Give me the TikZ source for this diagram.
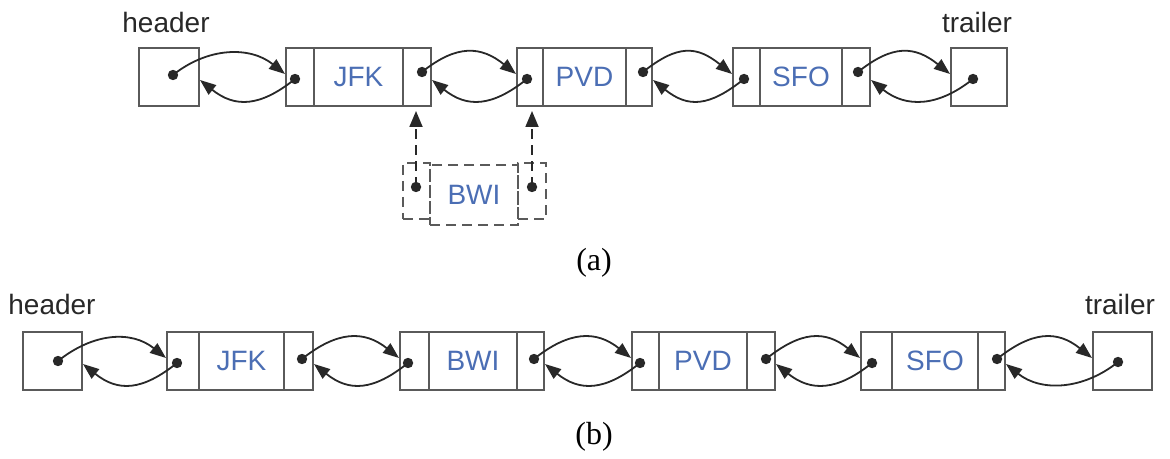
\documentclass[tikz,border=0pt]{standalone}
\usepackage{fontspec}
\setmainfont{Liberation Serif}
\setsansfont{Liberation Sans}
\usetikzlibrary{arrows.meta,fit}
\definecolor{nodeblue}{RGB}{75,110,180}
\definecolor{linegray}{RGB}{40,40,40}
\definecolor{boxgray}{RGB}{90,90,90}
\definecolor{labelgray}{RGB}{40,40,40}
\newcommand\llcell[6]{\node[cell,fit={(#2,#3) (#4,#5)},label={[celltext]center:#6}] (#1) {};}
\newcommand\dllcell[6]{\node[dcell,fit={(#2,#3) (#4,#5)},label={[celltext]center:#6}] (#1) {};}
\newcommand\dotat[3]{\coordinate (#1) at (#2,#3); \fill[linegray] (#1) circle (2.6pt);}
\newcommand\fwdlink[2]{\draw[link] (#1) .. controls +(35,-28) and +(-35,-28) .. (#2);}
\newcommand\bwdlink[2]{\draw[link] (#1) .. controls +(-35,28) and +(35,28) .. (#2);}
\begin{document}
\begin{tikzpicture}[x=0.5pt,y=-0.5pt,
  cell/.style={draw=boxgray,line width=0.85pt,inner sep=0pt},
  celltext/.style={text=nodeblue,inner sep=0pt,font=\sffamily\fontsize{14pt}{16pt}\selectfont},
  dcell/.style={cell,dash pattern=on 5pt off 3pt},
  link/.style={draw=linegray,line width=0.9pt,-{Triangle[length=8pt,width=6pt]}},
  uplink/.style={draw=linegray,line width=0.9pt,dash pattern=on 5pt off 3pt,
    -{Triangle[length=8pt,width=6.5pt]}},
  lbl/.style={text=labelgray,font=\sffamily\fontsize{14pt}{16pt}\selectfont},
  captext/.style={text=black,font=\fontsize{16pt}{18pt}\selectfont}]
\useasboundingbox (0,0) rectangle (1170,459);

% ---------- (a) ----------
\node[lbl] (hdrAlbl) at (166,22) {header};
\node[lbl] (trlAlbl) at (977,22) {trailer};
\llcell{hdrA}{139}{48}{199}{106}{}
\llcell{jfkAl}{286}{48}{314}{106}{}
\llcell{jfkAm}{314}{48}{403}{106}{JFK}
\llcell{jfkAr}{403}{48}{431}{106}{}
\llcell{pvdAl}{517}{48}{543}{106}{}
\llcell{pvdAm}{543}{48}{626}{106}{PVD}
\llcell{pvdAr}{626}{48}{652}{106}{}
\llcell{sfoAl}{733}{48}{760}{106}{}
\llcell{sfoAm}{760}{48}{842}{106}{SFO}
\llcell{sfoAr}{842}{48}{870}{106}{}
\llcell{trlA}{951}{48}{1007}{106}{}

\dotat{hdrAd}{173}{75}
\dotat{jfkAld}{295}{79}\dotat{jfkArd}{422}{72}
\dotat{pvdAld}{527}{79}\dotat{pvdArd}{643}{72}
\dotat{sfoAld}{744}{79}\dotat{sfoArd}{858}{72}
\dotat{trlAd}{973}{79}

\coordinate (hdrAout) at (200,80);
\coordinate (jfkAin) at (285,74); \coordinate (jfkAout) at (432,80);
\coordinate (pvdAin) at (516,74); \coordinate (pvdAout) at (653,80);
\coordinate (sfoAin) at (732,74); \coordinate (sfoAout) at (871,80);
\coordinate (trlAin) at (950,74);

\fwdlink{hdrAd}{jfkAin}\bwdlink{jfkAld}{hdrAout}
\fwdlink{jfkArd}{pvdAin}\bwdlink{pvdAld}{jfkAout}
\fwdlink{pvdArd}{sfoAin}\bwdlink{sfoAld}{pvdAout}
\fwdlink{sfoArd}{trlAin}\bwdlink{trlAd}{sfoAout}

% new node BWI (dashed)
\dllcell{bwiAl}{403}{163}{430}{219}{}
\dllcell{bwiAm}{430}{165}{518}{225}{BWI}
\dllcell{bwiAr}{518}{163}{546}{219}{}
\dotat{bwiAld}{416}{187}\dotat{bwiArd}{532}{187}
\coordinate (jfkAup) at (416,111);
\coordinate (pvdAup) at (532,111);
\draw[uplink] (bwiAld) -- (jfkAup);
\draw[uplink] (bwiArd) -- (pvdAup);

\node[captext] (capA) at (594,263) {(a)};

% ---------- (b) ----------
\node[lbl] (hdrBlbl) at (52,304) {header};
\node[lbl] (trlBlbl) at (1120,304) {trailer};
\llcell{hdrB}{23}{332}{82}{390}{}
\llcell{jfkBl}{167}{332}{199}{390}{}
\llcell{jfkBm}{199}{332}{284}{390}{JFK}
\llcell{jfkBr}{284}{332}{313}{390}{}
\llcell{bwiBl}{400}{332}{429}{390}{}
\llcell{bwiBm}{429}{332}{517}{390}{BWI}
\llcell{bwiBr}{517}{332}{544}{390}{}
\llcell{pvdBl}{632}{332}{659}{390}{}
\llcell{pvdBm}{659}{332}{747}{390}{PVD}
\llcell{pvdBr}{747}{332}{775}{390}{}
\llcell{sfoBl}{861}{332}{892}{390}{}
\llcell{sfoBm}{892}{332}{978}{390}{SFO}
\llcell{sfoBr}{978}{332}{1005}{390}{}
\llcell{trlB}{1093}{332}{1152}{390}{}

\dotat{hdrBd}{58}{361}
\dotat{jfkBld}{177}{363}\dotat{jfkBrd}{302}{359}
\dotat{bwiBld}{408}{363}\dotat{bwiBrd}{534}{359}
\dotat{pvdBld}{640}{363}\dotat{pvdBrd}{766}{359}
\dotat{sfoBld}{872}{363}\dotat{sfoBrd}{997}{359}
\dotat{trlBd}{1118}{362}

\coordinate (hdrBout) at (83,364);
\coordinate (jfkBin) at (166,358); \coordinate (jfkBout) at (314,364);
\coordinate (bwiBin) at (399,358); \coordinate (bwiBout) at (545,364);
\coordinate (pvdBin) at (631,358); \coordinate (pvdBout) at (776,364);
\coordinate (sfoBin) at (860,358); \coordinate (sfoBout) at (1006,364);
\coordinate (trlBin) at (1092,358);

\fwdlink{hdrBd}{jfkBin}\bwdlink{jfkBld}{hdrBout}
\fwdlink{jfkBrd}{bwiBin}\bwdlink{bwiBld}{jfkBout}
\fwdlink{bwiBrd}{pvdBin}\bwdlink{pvdBld}{bwiBout}
\fwdlink{pvdBrd}{sfoBin}\bwdlink{sfoBld}{pvdBout}
\fwdlink{sfoBrd}{trlBin}\bwdlink{trlBd}{sfoBout}

\node[captext] (capB) at (594,437) {(b)};
\end{tikzpicture}
\end{document}
